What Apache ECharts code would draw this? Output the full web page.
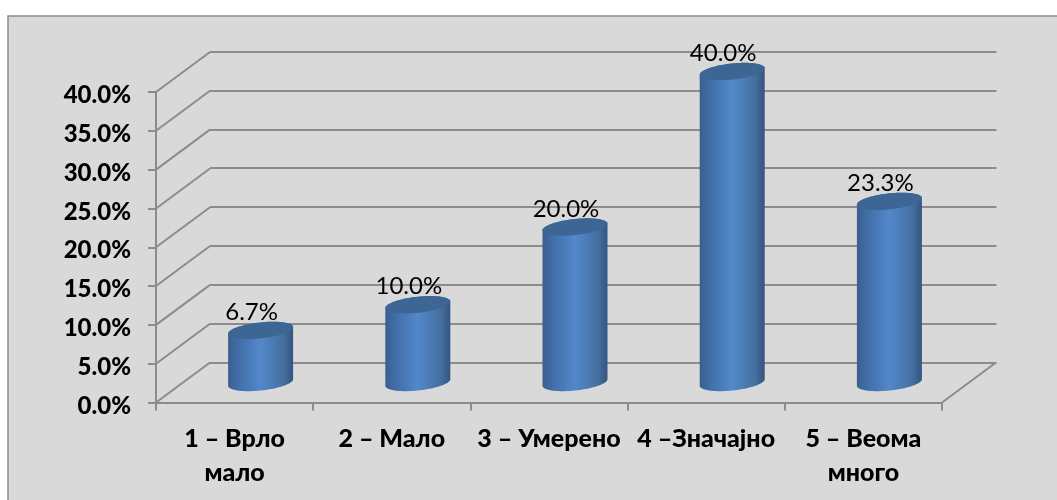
<!DOCTYPE html>
<html><head><meta charset="utf-8">
<style>html,body{margin:0;padding:0;background:#fff}#c{width:1057px;height:500px}</style>
<script src="https://cdn.jsdelivr.net/npm/echarts@6/dist/echarts.min.js"></script>
</head><body><div id="c"></div>
<script>
const categories = ['1 – Врло\nмало', '2 – Мало', '3 – Умерено', '4 –Значајно', '5 – Веома\nмного'];
const values = [6.7, 10.0, 20.0, 40.0, 23.3];
const yTicks = [0, 5, 10, 15, 20, 25, 30, 35, 40];
const FONT = 'Lato, "Open Sans", sans-serif';
const LINE = '#8c8c8c';
const LW = 2;
const DEPTH = [54, -40];

function ellipsePts(cx, cy, a, b, shear, from, to, n) {
  const pts = [];
  for (let i = 0; i <= n; i++) {
    const t = from + (to - from) * i / n;
    pts.push([cx + a * Math.cos(t), cy - shear * Math.cos(t) + b * Math.sin(t)]);
  }
  return pts;
}
function cylinder(params, api) {
  const i = api.value(0), v = api.value(1);
  const top = api.coord([i, v]);
  const base = api.coord([i, 0]);
  const a = api.size([1, 0])[0] * 0.4135 / 2;
  const b = 8, shear = 3.3;
  const bottomArc = ellipsePts(base[0], base[1], a, b, shear, 0, Math.PI, 40);
  const topArc = ellipsePts(top[0], top[1], a, b, shear, Math.PI, 2 * Math.PI, 40);
  const topFull = ellipsePts(top[0], top[1], a, b, shear, 0, 2 * Math.PI, 80);
  const body = {
    type: 'linear', x: 0, y: 0, x2: 1, y2: 0,
    colorStops: [
      {offset: 0, color: '#3a5f8f'}, {offset: 0.12, color: '#3f6ba3'},
      {offset: 0.5, color: '#5288cb'}, {offset: 0.85, color: '#44709f'},
      {offset: 1, color: '#345580'}
    ]
  };
  return {
    type: 'group',
    children: [
      {type: 'polygon', shape: {points: bottomArc.concat(topArc)}, style: {fill: body}},
      {type: 'polygon', shape: {points: topFull}, style: {fill: '#3e6695'}},
      {type: 'text', style: {
        x: top[0] - 9, y: top[1] - 18, text: values[i].toFixed(1) + '%',
        align: 'center', verticalAlign: 'middle',
        font: '24px ' + FONT, fill: '#000'
      }}
    ]
  };
}
function diagonal(params, api) {
  const cs = params.coordSys;
  const p = api.coord([0, api.value(0)]);
  return {type: 'line',
    shape: {x1: cs.x, y1: p[1], x2: cs.x + DEPTH[0], y2: p[1] + DEPTH[1]},
    style: {stroke: LINE, lineWidth: LW}};
}
function floorEdge(params, api) {
  const cs = params.coordSys;
  const y = api.coord([0, api.value(0)])[1];
  return {type: 'line',
    shape: {x1: cs.x + cs.width, y1: y, x2: cs.x + cs.width + DEPTH[0], y2: y + DEPTH[1]},
    style: {stroke: LINE, lineWidth: LW}};
}
const hiddenY = {type: 'value', min: 0, max: 40, interval: 5, show: false};
const hiddenX = {type: 'category', data: categories, show: false};
const chart = echarts.init(document.getElementById('c'), null, {renderer: 'canvas'});
chart.setOption({
  animation: false,
  backgroundColor: '#fff',
  graphic: [{type: 'rect', z: -10, silent: true,
    shape: {x: 8, y: 16, width: 1060, height: 500},
    style: {fill: '#d9d9d9', stroke: '#8c8c8c', lineWidth: 1.5}}],
  grid: [
    {left: 210, top: 51.5, width: 786.5, height: 311},
    {left: 156, top: 92, width: 786, height: 310.5},
    {left: 182, top: 71.5, width: 786, height: 311}
  ],
  xAxis: [
    {gridIndex: 0, type: 'category', data: categories, show: false},
    {gridIndex: 1, type: 'category', data: categories,
      axisLine: {show: true, lineStyle: {color: LINE, width: LW}},
      axisTick: {show: true, length: 8, lineStyle: {color: LINE, width: LW}},
      axisLabel: {interval: 0, margin: 19, color: '#000', fontFamily: FONT, fontWeight: 900,
        fontSize: 25, lineHeight: 34, verticalAlign: 'top'}},
    Object.assign({gridIndex: 2}, hiddenX)
  ],
  yAxis: [
    {gridIndex: 0, type: 'value', min: 0, max: 40, interval: 5,
      axisLine: {show: false}, axisTick: {show: false}, axisLabel: {show: false},
      splitLine: {show: true, lineStyle: {color: LINE, width: LW}}},
    {gridIndex: 1, type: 'value', min: 0, max: 40, interval: 5,
      axisLine: {show: true, lineStyle: {color: LINE, width: LW}},
      axisTick: {show: true, length: 8, lineStyle: {color: LINE, width: LW}},
      splitLine: {show: false},
      axisLabel: {margin: 25, color: '#000', fontFamily: FONT, fontWeight: 900, fontSize: 24,
        verticalAlign: 'top', lineHeight: 7, formatter: v => v.toFixed(1) + '%'}},
    Object.assign({gridIndex: 2}, hiddenY)
  ],
  series: [
    {type: 'custom', xAxisIndex: 1, yAxisIndex: 1, data: yTicks.map(v => [v]), encode: {y: 0},
      renderItem: diagonal, silent: true, z: 1},
    {type: 'custom', xAxisIndex: 1, yAxisIndex: 1, data: [[yTicks[0]]], encode: {y: 0},
      renderItem: floorEdge, silent: true, z: 1},
    {type: 'custom', xAxisIndex: 2, yAxisIndex: 2, data: values.map((v, i) => [i, v]),
      encode: {x: 0, y: 1}, renderItem: cylinder, silent: true, z: 5}
  ]
});
</script></body></html>
